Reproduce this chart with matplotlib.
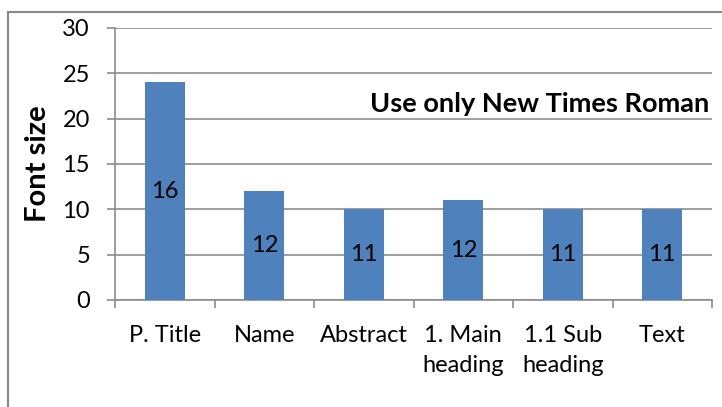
import matplotlib.pyplot as plt
from matplotlib.patches import Rectangle

# data
categories = ["P. Title", "Name", "Abstract", "1. Main\nheading", "1.1 Sub\nheading", "Text"]
heights = [24, 12, 10, 11, 10, 10]
labels = ["16", "12", "11", "12", "11", "11"]

plt.rcParams['font.family'] = ['Lato', 'DejaVu Sans']

W, H = 722, 407
fig = plt.figure(figsize=(W / 100, H / 100), dpi=100)
ax = fig.add_axes([115 / W, 1 - 300 / H, (712 - 115) / W, (300 - 28) / H])

# outer chart frame (runs past right and bottom edges)
fig.patches.append(Rectangle((8 / W, -0.05), 1.2, 1 - 12 / H + 0.05,
                             transform=fig.transFigure, fill=False,
                             edgecolor='#888888', linewidth=1.5))

x = range(len(categories))
ax.bar(x, heights, width=0.4, color='#4f81bd', zorder=3)
for i, (h, lab) in enumerate(zip(heights, labels)):
    ax.text(i, h / 2, lab, ha='center', va='center', fontsize=17, zorder=4)

ax.set_xlim(-0.5, len(categories) - 0.5)
ax.set_ylim(0, 30)
ax.set_yticks(range(0, 31, 5))
ax.yaxis.grid(True, color='#8c8c8c', linewidth=1.2, zorder=0)

ax.set_xticks([i + 0.5 for i in range(-1, len(categories))])
ax.set_xticklabels([])
ax.set_xticks(list(x), minor=True)
ax.set_xticklabels(categories, minor=True, fontsize=17, linespacing=1.55)
ax.tick_params(axis='x', which='minor', length=0, pad=18)
ax.tick_params(axis='x', which='major', length=6, color='#8c8c8c', width=1.2)
ax.tick_params(axis='y', length=6, color='#8c8c8c', width=1.2, labelsize=17, pad=12)

for s in ['top', 'right']:
    ax.spines[s].set_visible(False)
for s in ['left', 'bottom']:
    ax.spines[s].set_color('#8c8c8c')
    ax.spines[s].set_linewidth(1.2)

ax.set_ylabel("Font size", fontsize=21, fontweight='bold', labelpad=8)
ax.text(0.995, 21.6, "Use only New Times Roman", transform=ax.get_yaxis_transform(),
        ha='right', va='center', fontsize=19.5, fontweight='bold')

fig.savefig("out.png", dpi=100)
